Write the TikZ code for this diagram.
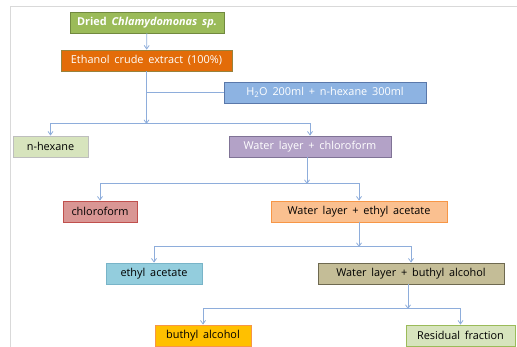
\documentclass[tikz,border=0pt]{standalone}
\usepackage{fontspec}
\setmainfont{Open Sans}
\usetikzlibrary{arrows.meta,shadows}
\definecolor{linkblue}{HTML}{8EADDB}
\definecolor{framegray}{HTML}{D9D9D9}
\newcommand{\widewords}{\spaceskip=4.8pt plus 1pt\relax}

\begin{document}
\begin{tikzpicture}[x=1pt,y=-1pt,
  font=\fontsize{10.9}{12}\selectfont\widewords,
  box/.style={draw,line width=.8pt,minimum height=21pt,inner sep=0pt,
    drop shadow={opacity=.25,shadow xshift=.8pt,shadow yshift=-.8pt}},
  link/.style={linkblue,line width=.8pt},
  arr/.style={link,-{Straight Barb[length=3.5pt,width=5pt]}}]
\useasboundingbox (0,0) rectangle (517,347);
\draw[framegray,line width=1pt] (517,7) -- (10,7) -- (10,347);
% boxes
\node (dried)[box,fill={rgb,255:red,155;green,187;blue,89},draw={rgb,255:red,113;green,137;blue,63},
  text=white,minimum width=154pt] at (147,22.5) {\textbf{Dried \textit{Chlamydomonas sp.}}};
\node (ethanol)[box,fill={rgb,255:red,227;green,108;blue,9},draw={rgb,255:red,152;green,130;blue,60},
  text=white,minimum width=171pt] at (146.5,60.5) {Ethanol crude extract (100\%)};
\node (water)[box,fill={rgb,255:red,141;green,179;blue,226},draw={rgb,255:red,90;green,120;blue,170},
  text=white,minimum width=202pt] at (325,92.5) {H\textsubscript{2}O 200ml + n-hexane 300ml};
\node (hexane)[box,fill={rgb,255:red,215;green,228;blue,189},draw={rgb,255:red,190;green,190;blue,190},
  minimum width=75pt] at (50.5,146.5) {n-hexane};
\node (chlwater)[box,fill={rgb,255:red,179;green,162;blue,199},draw={rgb,255:red,128;green,115;blue,150},
  text=white,minimum width=162pt] at (310,146.5) {Water layer + chloroform};
\node (chl)[box,fill={rgb,255:red,217;green,150;blue,148},draw={rgb,255:red,192;green,80;blue,77},
  minimum width=74pt] at (100,211.5) {chloroform};
\node (eawater)[box,fill={rgb,255:red,250;green,192;blue,144},draw={rgb,255:red,247;green,150;blue,70},
  minimum width=176pt] at (359,211.5) {Water layer + ethyl acetate};
\node (ea)[box,fill={rgb,255:red,147;green,205;blue,221},draw={rgb,255:red,120;green,180;blue,200},
  minimum width=96pt] at (154,273.5) {ethyl acetate};
\node (bawater)[box,fill={rgb,255:red,196;green,189;blue,151},draw={rgb,255:red,110;green,105;blue,80},
  minimum width=186pt] at (411,273.5) {Water layer + buthyl alcohol};
\node (ba)[box,fill={rgb,255:red,255;green,192;blue,0},draw={rgb,255:red,247;green,150;blue,70},
  minimum width=96pt] at (203,335.5) {buthyl alcohol};
\node (res)[box,fill={rgb,255:red,215;green,228;blue,189},draw={rgb,255:red,155;green,187;blue,89},
  minimum width=109pt] at (460.5,335.5) {Residual fraction};
% split points
\coordinate (s1) at (146.5,123);
\coordinate (s2) at (307,183);
\coordinate (s3) at (359,246);
\coordinate (s4) at (408,308);
% connectors
\draw[arr] (dried) -- (ethanol);
\draw[arr] (ethanol) -- ([yshift=-1pt]s1);
\draw[link] (ethanol.south |- water) -- (water.west);
\draw[arr] (s1) -| (hexane.north);
\draw[arr] (s1) -| (chlwater.north);
\draw[arr] (chlwater.south -| s2) -- ([yshift=-1pt]s2);
\draw[arr] (s2) -| (chl.north);
\draw[arr] (s2) -| (eawater.north);
\draw[arr] (eawater) -- ([yshift=-1pt]s3);
\draw[arr] (s3) -| (ea.north);
\draw[arr] (s3) -| (bawater.north);
\draw[arr] (bawater.south -| s4) -- ([yshift=-1pt]s4);
\draw[arr] (s4) -| (ba.north);
\draw[arr] (s4) -| (res.north);
\end{tikzpicture}
\end{document}
